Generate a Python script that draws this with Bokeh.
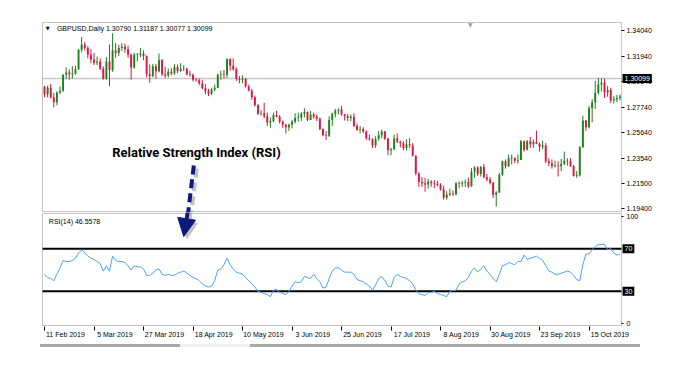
from bokeh.plotting import figure
from bokeh.models import (Range1d, FixedTicker, Label, Arrow, NormalHead,
                          BoxAnnotation, ColumnDataSource, NumeralTickFormatter,
                          LinearAxis, Div)
from bokeh.layouts import column
from bokeh.embed import file_html
from bokeh.resources import INLINE

# ---------------- data (GBPUSD daily) ----------------
open_ = [1.2940, 1.2880, 1.2935, 1.2855, 1.2815, 1.2895, 1.2910, 1.3040, 1.3060, 1.3045,
         1.3050, 1.3085, 1.3245, 1.3290, 1.3260, 1.3205, 1.3165, 1.3140, 1.3150, 1.3090,
         1.3010, 1.3150, 1.3080, 1.3240, 1.3220, 1.3260, 1.3270, 1.3250, 1.3205, 1.3100,
         1.3205, 1.3205, 1.3215, 1.3195, 1.3045, 1.3030, 1.3110, 1.3070, 1.3160, 1.3045,
         1.3035, 1.3065, 1.3050, 1.3105, 1.3070, 1.3085, 1.3090, 1.3045, 1.3040, 1.3000,
         1.2995, 1.2970, 1.2930, 1.2905, 1.2885, 1.2920, 1.2935, 1.3040, 1.3045, 1.3040,
         1.3170, 1.3115, 1.3085, 1.3005, 1.3000, 1.3005, 1.2945, 1.2910, 1.2855, 1.2790,
         1.2720, 1.2725, 1.2700, 1.2650, 1.2660, 1.2710, 1.2695, 1.2655, 1.2630, 1.2610,
         1.2630, 1.2655, 1.2685, 1.2690, 1.2720, 1.2735, 1.2670, 1.2715, 1.2695, 1.2680,
         1.2595, 1.2545, 1.2540, 1.2670, 1.2720, 1.2745, 1.2755, 1.2715, 1.2700, 1.2685,
         1.2695, 1.2620, 1.2590, 1.2595, 1.2575, 1.2520, 1.2510, 1.2460, 1.2515, 1.2545,
         1.2575, 1.2515, 1.2420, 1.2430, 1.2520, 1.2490, 1.2480, 1.2440, 1.2470, 1.2460,
         1.2375, 1.2230, 1.2160, 1.2150, 1.2140, 1.2165, 1.2150, 1.2145, 1.2135, 1.2100,
         1.2030, 1.2055, 1.2065, 1.2060, 1.2150, 1.2145, 1.2155, 1.2160, 1.2125, 1.2245,
         1.2280, 1.2225, 1.2285, 1.2200, 1.2180, 1.2155, 1.2055, 1.2075, 1.2220, 1.2330,
         1.2290, 1.2355, 1.2360, 1.2335, 1.2340, 1.2495, 1.2425, 1.2495, 1.2470, 1.2490,
         1.2475, 1.2450, 1.2460, 1.2330, 1.2315, 1.2290, 1.2295, 1.2290, 1.2310, 1.2335,
         1.2330, 1.2290, 1.2210, 1.2215, 1.2445, 1.2665, 1.2610, 1.2765, 1.2815, 1.2890,
         1.2960, 1.2975, 1.2895, 1.2915, 1.2830, 1.2840, 1.2850]
high = [1.2950, 1.2950, 1.2965, 1.2890, 1.2905, 1.2945, 1.3045, 1.3100, 1.3085, 1.3110,
        1.3115, 1.3250, 1.3350, 1.3310, 1.3275, 1.3250, 1.3220, 1.3190, 1.3175, 1.3110,
        1.3185, 1.3290, 1.3381, 1.3300, 1.3285, 1.3300, 1.3295, 1.3280, 1.3215, 1.3220,
        1.3220, 1.3260, 1.3240, 1.3200, 1.3125, 1.3130, 1.3130, 1.3215, 1.3170, 1.3105,
        1.3090, 1.3095, 1.3130, 1.3125, 1.3135, 1.3120, 1.3100, 1.3075, 1.3050, 1.3015,
        1.3010, 1.3000, 1.2965, 1.2925, 1.2935, 1.2960, 1.3050, 1.3075, 1.3080, 1.3175,
        1.3175, 1.3175, 1.3100, 1.3030, 1.3035, 1.3015, 1.2960, 1.2925, 1.2870, 1.2800,
        1.2750, 1.2810, 1.2730, 1.2690, 1.2730, 1.2745, 1.2710, 1.2665, 1.2640, 1.2640,
        1.2670, 1.2725, 1.2730, 1.2735, 1.2765, 1.2740, 1.2745, 1.2730, 1.2715, 1.2690,
        1.2600, 1.2580, 1.2700, 1.2730, 1.2760, 1.2765, 1.2785, 1.2720, 1.2720, 1.2715,
        1.2725, 1.2640, 1.2620, 1.2610, 1.2585, 1.2550, 1.2520, 1.2535, 1.2580, 1.2590,
        1.2580, 1.2525, 1.2440, 1.2550, 1.2560, 1.2500, 1.2495, 1.2510, 1.2520, 1.2480,
        1.2380, 1.2240, 1.2200, 1.2195, 1.2185, 1.2175, 1.2175, 1.2170, 1.2150, 1.2130,
        1.2085, 1.2105, 1.2090, 1.2160, 1.2165, 1.2170, 1.2180, 1.2195, 1.2275, 1.2290,
        1.2290, 1.2290, 1.2310, 1.2225, 1.2200, 1.2160, 1.2085, 1.2235, 1.2335, 1.2345,
        1.2385, 1.2385, 1.2360, 1.2385, 1.2505, 1.2500, 1.2505, 1.2530, 1.2510, 1.2582,
        1.2485, 1.2500, 1.2480, 1.2355, 1.2345, 1.2335, 1.2330, 1.2350, 1.2410, 1.2355,
        1.2355, 1.2300, 1.2250, 1.2455, 1.2705, 1.2670, 1.2785, 1.2840, 1.2990, 1.3015,
        1.3013, 1.3010, 1.2950, 1.2935, 1.2865, 1.2875, 1.2880]
low = [1.2855, 1.2855, 1.2845, 1.2773, 1.2790, 1.2880, 1.2900, 1.3005, 1.3000, 1.3010,
       1.3040, 1.3080, 1.3225, 1.3240, 1.3175, 1.3135, 1.3120, 1.3120, 1.3080, 1.3000,
       1.3000, 1.2945, 1.3065, 1.3180, 1.3195, 1.3235, 1.3220, 1.3180, 1.3000, 1.3090,
       1.3150, 1.3185, 1.3160, 1.3020, 1.2975, 1.3020, 1.3010, 1.3060, 1.3030, 1.3015,
       1.3020, 1.3035, 1.3040, 1.3055, 1.3065, 1.3070, 1.3035, 1.3025, 1.2985, 1.2985,
       1.2955, 1.2920, 1.2880, 1.2865, 1.2875, 1.2905, 1.2930, 1.3000, 1.3010, 1.3015,
       1.3075, 1.3075, 1.2990, 1.2970, 1.2970, 1.2935, 1.2905, 1.2835, 1.2780, 1.2710,
       1.2705, 1.2685, 1.2620, 1.2605, 1.2650, 1.2690, 1.2640, 1.2605, 1.2560, 1.2580,
       1.2600, 1.2640, 1.2655, 1.2660, 1.2690, 1.2660, 1.2670, 1.2680, 1.2660, 1.2585,
       1.2535, 1.2505, 1.2530, 1.2620, 1.2690, 1.2715, 1.2705, 1.2665, 1.2660, 1.2660,
       1.2610, 1.2580, 1.2560, 1.2560, 1.2505, 1.2500, 1.2440, 1.2440, 1.2500, 1.2520,
       1.2505, 1.2380, 1.2380, 1.2420, 1.2480, 1.2445, 1.2420, 1.2420, 1.2440, 1.2370,
       1.2215, 1.2120, 1.2120, 1.2080, 1.2105, 1.2120, 1.2110, 1.2125, 1.2090, 1.2015,
       1.2015, 1.2045, 1.2045, 1.2050, 1.2110, 1.2120, 1.2120, 1.2110, 1.2120, 1.2195,
       1.2210, 1.2205, 1.2190, 1.2165, 1.2140, 1.2030, 1.1958, 1.2070, 1.2210, 1.2270,
       1.2285, 1.2305, 1.2315, 1.2310, 1.2340, 1.2410, 1.2420, 1.2440, 1.2440, 1.2470,
       1.2410, 1.2430, 1.2315, 1.2290, 1.2270, 1.2280, 1.2205, 1.2250, 1.2300, 1.2295,
       1.2285, 1.2205, 1.2195, 1.2205, 1.2440, 1.2580, 1.2600, 1.2650, 1.2760, 1.2880,
       1.2905, 1.2850, 1.2860, 1.2810, 1.2805, 1.2815, 1.2830]
close = [1.2880, 1.2935, 1.2855, 1.2815, 1.2895, 1.2910, 1.3040, 1.3060, 1.3045, 1.3050,
         1.3085, 1.3245, 1.3290, 1.3260, 1.3205, 1.3165, 1.3140, 1.3150, 1.3090, 1.3010,
         1.3150, 1.3080, 1.3240, 1.3220, 1.3260, 1.3270, 1.3250, 1.3205, 1.3100, 1.3205,
         1.3210, 1.3215, 1.3195, 1.3045, 1.3030, 1.3110, 1.3070, 1.3160, 1.3045, 1.3035,
         1.3065, 1.3050, 1.3105, 1.3070, 1.3085, 1.3090, 1.3045, 1.3040, 1.3000, 1.2995,
         1.2970, 1.2930, 1.2905, 1.2885, 1.2920, 1.2935, 1.3040, 1.3045, 1.3040, 1.3170,
         1.3115, 1.3085, 1.3005, 1.3000, 1.3005, 1.2945, 1.2910, 1.2855, 1.2790, 1.2720,
         1.2725, 1.2700, 1.2650, 1.2660, 1.2710, 1.2695, 1.2655, 1.2630, 1.2610, 1.2630,
         1.2655, 1.2685, 1.2690, 1.2720, 1.2735, 1.2670, 1.2715, 1.2695, 1.2680, 1.2595,
         1.2545, 1.2540, 1.2670, 1.2720, 1.2745, 1.2755, 1.2715, 1.2700, 1.2685, 1.2695,
         1.2620, 1.2590, 1.2595, 1.2575, 1.2520, 1.2510, 1.2460, 1.2515, 1.2545, 1.2575,
         1.2515, 1.2420, 1.2430, 1.2520, 1.2490, 1.2480, 1.2440, 1.2470, 1.2460, 1.2375,
         1.2230, 1.2160, 1.2150, 1.2140, 1.2165, 1.2150, 1.2145, 1.2135, 1.2100, 1.2030,
         1.2055, 1.2065, 1.2060, 1.2150, 1.2145, 1.2155, 1.2160, 1.2125, 1.2245, 1.2280,
         1.2225, 1.2285, 1.2200, 1.2180, 1.2155, 1.2055, 1.2075, 1.2220, 1.2330, 1.2290,
         1.2355, 1.2360, 1.2335, 1.2340, 1.2495, 1.2425, 1.2495, 1.2470, 1.2490, 1.2475,
         1.2450, 1.2460, 1.2330, 1.2315, 1.2290, 1.2295, 1.2290, 1.2310, 1.2335, 1.2330,
         1.2290, 1.2210, 1.2215, 1.2445, 1.2665, 1.2610, 1.2765, 1.2815, 1.2890, 1.2960,
         1.2975, 1.2895, 1.2915, 1.2830, 1.2840, 1.2850, 1.2860]
rsi = [46, 43, 42, 40, 46, 52, 59, 58, 58, 59,
       61, 66, 69, 66, 63, 61, 60, 58, 56, 49,
       54, 49, 63, 59, 58, 58, 57, 54, 50, 54,
       53, 53, 51, 45, 45, 47, 50, 51, 46, 45,
       46, 45, 45, 47, 48, 49, 47, 45, 43, 42,
       40, 37, 35, 34, 35, 40, 50, 51, 55, 61,
       55, 51, 48, 47, 46, 43, 40, 37, 34, 30,
       29, 28, 27, 25, 31, 32, 29, 28, 27, 30,
       35, 39, 38, 39, 44, 43, 42, 46, 42, 39,
       33, 34, 42, 49, 52, 52, 50, 48, 48, 48,
       46, 41, 40, 39, 37, 35, 31, 36, 42, 44,
       40, 35, 34, 43, 46, 44, 43, 42, 40, 37,
       31, 28, 27, 26, 29, 29, 30, 28, 27, 26,
       25, 30, 31, 31, 37, 39, 40, 43, 49, 52,
       48, 51, 54, 49, 46, 42, 39, 46, 54, 55,
       57, 56, 55, 58, 58, 64, 60, 61, 62, 63,
       61, 59, 54, 49, 48, 46, 46, 47, 48, 49,
       48, 45, 41, 40, 55, 65, 65, 69, 72, 74,
       74, 74, 69, 70, 66, 64, 65]

date_tick_bars = [0, 16, 32, 48, 64, 80, 96, 112, 128, 144, 160, 176]
date_tick_labels = ["11 Feb 2019", "5 Mar 2019", "27 Mar 2019", "18 Apr 2019",
                    "10 May 2019", "3 Jun 2019", "25 Jun 2019", "17 Jul 2019",
                    "8 Aug 2019", "30 Aug 2019", "23 Sep 2019", "15 Oct 2019"]
price_ticks = [1.19400, 1.21500, 1.23540, 1.25640, 1.27740, 1.29840, 1.31940, 1.34040]
rsi_ticks = [0, 100]
rsi_levels = [70, 30]
current_price = 1.30099
header_text = "GBPUSD,Daily  1.30790 1.31187 1.30077 1.30099"
rsi_header = "RSI(14) 46.5578"
annotation_text = "Relative Strength Index (RSI)"

# ---------------- layout / styling constants ----------------
BULL = "#1d831d"
BEAR = "#e0163c"
RSI_COLOR = "#4aa3ff"
NAVY = "#0d1a7c"
BORDER = "#3a3a3a"
FONT = "Liberation Sans"
LABEL_SHIFT = 6.75        # date labels start right of their tick (MT4 style)

BAR_PX = 3.094            # pixels per bar
PANEL_L, PANEL_R = -0.65, 186.5          # panel borders in bar units
FRAME_L_PX, FRAME_R_PX = 41, 660          # plot frame (wider than the panel, holds the scales)
X_START = PANEL_L - 1 / BAR_PX
X_END = X_START + (FRAME_R_PX - FRAME_L_PX) / BAR_PX

PRICE_BOT, PRICE_TOP = 1.1918, 1.34697    # price panel border levels
PRICE_PX = 0.000821
RSI_BOT, RSI_TOP = -2.0, 103.0
RSI_PX = 1 / 1.0666

bars = list(range(len(close)))
colors = [BULL if c >= o else BEAR for o, c in zip(open_, close)]
src = ColumnDataSource(dict(
    x=bars, o=open_, h=high, l=low, c=close,
    top=[max(o, c) for o, c in zip(open_, close)],
    bot=[min(o, c) for o, c in zip(open_, close)],
    color=colors,
))

xr = Range1d(X_START, X_END)

common = dict(width=700, toolbar_location=None, output_backend="svg",
              min_border_left=FRAME_L_PX, min_border_right=700 - FRAME_R_PX,
              y_axis_location="right", background_fill_color="white",
              border_fill_color="white", outline_line_color=None)


def style_axis(ax, size="7px"):
    ax.major_label_text_font = FONT
    ax.major_label_text_font_size = size
    ax.major_label_text_color = "#000000"
    ax.minor_tick_line_color = None
    ax.minor_tick_out = 0
    ax.minor_tick_in = 0
    ax.major_tick_in = 0
    ax.axis_line_color = None


# ---------------- price panel ----------------
p1 = figure(height=212, x_range=xr,
            y_range=Range1d(PRICE_BOT - PRICE_PX, PRICE_TOP + PRICE_PX),
            x_axis_location=None, min_border_top=21, min_border_bottom=0, **common)
p1.grid.visible = False

p1.segment(x0=[PANEL_L], x1=[PANEL_R], y0=[current_price], y1=[current_price],
           line_color="#c8c8c8", line_width=1.5)

p1.segment(x0="x", y0="l", x1="x", y1="h", color="color", line_width=1, source=src)
p1.vbar(x="x", top="top", bottom="bot", width=0.62, fill_color="color",
        line_color=None, source=src)

p1.add_layout(BoxAnnotation(left=PANEL_L, right=PANEL_R, bottom=PRICE_BOT, top=PRICE_TOP,
                            fill_color=None, line_color=BORDER, line_width=1))

ya = p1.yaxis[0]
ya.ticker = FixedTicker(ticks=price_ticks)
ya.formatter = NumeralTickFormatter(format="0.00000")
style_axis(ya)
ya.fixed_location = PANEL_R
ya.major_tick_out = 3
ya.major_tick_line_color = "#000000"
ya.major_label_standoff = 2

p1.add_layout(Label(x=PANEL_R, y=current_price, x_offset=1, text="1.30099",
                    text_font=FONT, text_font_size="7px", text_color="white",
                    text_baseline="middle", text_align="left",
                    background_fill_color="black", padding=2))

p1.add_layout(Label(x=0.4, y=1.3422, text="\u25bc", text_font="DejaVu Sans",
                    text_font_size="5px", text_color="#000000",
                    text_baseline="middle", text_align="left"))
p1.add_layout(Label(x=4.0, y=1.3422, text=header_text, text_font=FONT,
                    text_font_size="7px", text_color="#000000",
                    text_baseline="middle", text_align="left"))
p1.add_layout(Label(x=137.6, y=1.3450, text="\u25bc", text_font="DejaVu Sans",
                    text_font_size="6px", text_color="#a0a0a0",
                    text_baseline="middle", text_align="center"))

p1.add_layout(Label(x=49.1, y=1.2402, text=annotation_text, text_font="Roboto",
                    text_font_style="bold", text_font_size="13px",
                    text_color="#000000", text_baseline="middle",
                    text_align="center"))

# dashed arrow shaft (upper part), with shadow
p1.add_layout(Arrow(x_start=49.2, y_start=1.2271, x_end=47.3, y_end=1.1880, end=None,
                    line_color="#9a9a9a", line_alpha=0.6, line_width=4,
                    line_dash="9 5"))
p1.add_layout(Arrow(x_start=48.25, y_start=1.2296, x_end=46.35, y_end=1.1895, end=None,
                    line_color=NAVY, line_width=4, line_dash="9 5"))

# ---------------- RSI panel ----------------
p2 = figure(height=132, x_range=xr,
            y_range=Range1d(RSI_BOT - RSI_PX, RSI_TOP + RSI_PX),
            min_border_top=0, min_border_bottom=18, **common)
p2.grid.visible = False

for lv in rsi_levels:
    p2.segment(x0=[PANEL_L], x1=[PANEL_R], y0=[lv], y1=[lv],
               line_color="#000000", line_width=2)

p2.line(x=bars, y=rsi, line_color=RSI_COLOR, line_width=1)

p2.add_layout(BoxAnnotation(left=PANEL_L, right=PANEL_R, bottom=RSI_BOT, top=RSI_TOP,
                            fill_color=None, line_color=BORDER, line_width=1))

ra = p2.yaxis[0]
ra.ticker = FixedTicker(ticks=rsi_ticks)
style_axis(ra)
ra.fixed_location = PANEL_R
ra.major_tick_out = 2
ra.major_tick_line_color = "#000000"
ra.major_label_standoff = 3

for lv in rsi_levels:
    p2.add_layout(Label(x=PANEL_R, y=lv, x_offset=1, text=str(lv), text_font=FONT,
                        text_font_size="7px", text_color="white",
                        text_baseline="middle", text_align="left",
                        background_fill_color="black", padding=2))

# date axis: tick marks at the bars ...
xa = p2.xaxis[0]
xa.ticker = FixedTicker(ticks=date_tick_bars)
xa.major_label_overrides = {b: "" for b in date_tick_bars}
style_axis(xa, size="0px")
xa.major_tick_out = 4
xa.major_tick_line_color = "#000000"
xa.major_label_standoff = 0

# ... and labels that start right of each tick
label_pos = [b + LABEL_SHIFT for b in date_tick_bars]
xl = LinearAxis(ticker=FixedTicker(ticks=label_pos),
                major_label_overrides={p: t for p, t in zip(label_pos, date_tick_labels)})
style_axis(xl)
xl.major_tick_line_color = None
xl.major_tick_out = 0
xl.major_label_standoff = 0
p2.add_layout(xl, "below")

p2.add_layout(Label(x=1.4, y=95.5, text=rsi_header, text_font=FONT,
                    text_font_size="7px", text_color="#000000",
                    text_baseline="middle", text_align="left"))

# arrow head part, with shadow
p2.add_layout(Arrow(x_start=47.3, y_start=106.0, x_end=46.0, y_end=78.6,
                    end=NormalHead(size=18, fill_color="#9a9a9a", fill_alpha=0.6,
                                   line_color=None),
                    line_color="#9a9a9a", line_alpha=0.6, line_width=4,
                    line_dash="9 5"))
p2.add_layout(Arrow(x_start=46.35, y_start=105.5, x_end=45.0, y_end=81.4,
                    end=NormalHead(size=18, fill_color=NAVY, line_color=NAVY),
                    line_color=NAVY, line_width=4, line_dash="9 5"))

# ---------------- bottom window strip ----------------
strip = Div(text="", width=600, height=3, margin=(0, 0, 0, 40),
            styles={"background": "linear-gradient(to right, #a8a8a8 140px, #efefef 140px, "
                                  "#efefef 210px, #a8a8a8 210px)"})

layout = column(p1, p2, strip, spacing=0)
open("out.html", "w").write(file_html(layout, INLINE))
